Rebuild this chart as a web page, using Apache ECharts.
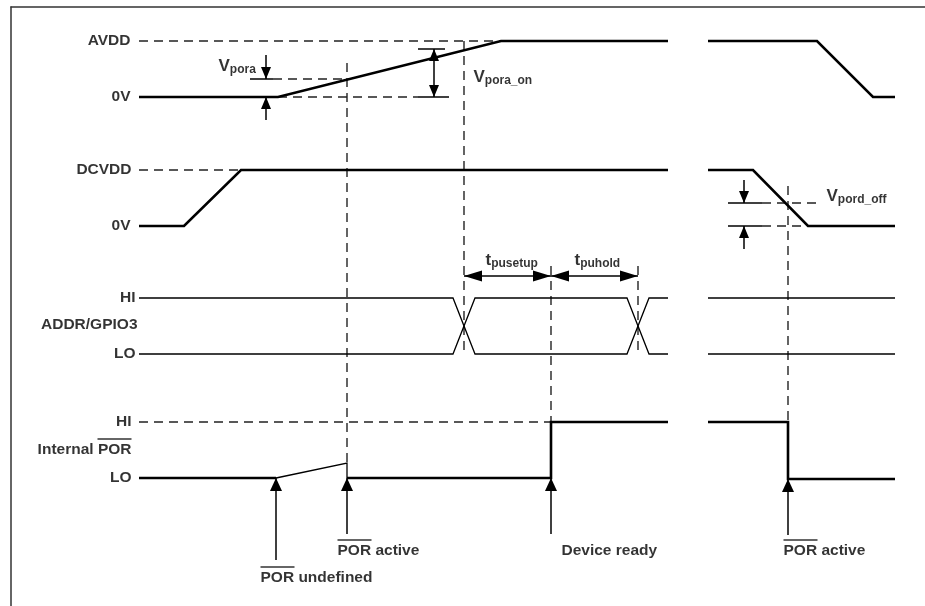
<!DOCTYPE html>
<html>
<head>
<meta charset="utf-8">
<script src="https://cdn.jsdelivr.net/npm/echarts@6/dist/echarts.min.js"></script>
<style>
  html, body { margin: 0; padding: 0; background: #fff; }
  #chart { width: 925px; height: 606px; }
</style>
</head>
<body>
<div id="chart"></div>
<script>
// diagram units: x = time position, y = signal level position (top -> bottom)
const avddOn = [[139, 97], [278, 97], [501, 41], [668, 41]];
const avddOff = [[708, 41], [817, 41], [873, 97], [895, 97]];
const dcvddOn = [[139, 226], [184, 226], [241, 170], [668, 170]];
const dcvddOff = [[708, 170], [753, 170], [808, 226], [895, 226]];
const porStart = [[139, 478], [276, 478]];
const porReady = [[347, 478], [551, 478], [551, 422], [668, 422]];
const porOff = [[708, 422], [788, 422], [788, 479], [895, 479]];

// thin lines: ADDR/GPIO3 bus, undefined POR ramp, measurement ticks
const gpioBusA = [[139, 298], [453, 298], [475, 354], [627, 354], [649, 298], [668, 298]];
const gpioBusB = [[139, 354], [453, 354], [475, 298], [627, 298], [649, 354], [668, 354]];
const gpioHiOff = [[708, 298], [895, 298]];
const gpioLoOff = [[708, 354], [895, 354]];
const porUndefined = [[276, 478], [347, 463], [347, 478]];
const ticks = [
  [[250, 79], [273, 79]],
  [[418, 49], [445, 49]],
  [[418, 97], [449, 97]],
  [[728, 203], [762, 203]],
  [[728, 226], [762, 226]]
];

// dashed reference lines
const dashedRefs = [
  [[139, 41], [501, 41]],
  [[278, 97], [418, 97]],
  [[273, 79], [347, 79]],
  [[139, 170], [241, 170]],
  [[139, 422], [551, 422]],
  [[762, 203], [822, 203]],
  [[762, 226], [808, 226]],
  [[347, 63], [347, 463]],
  [[464, 41], [464, 354]],
  [[551, 266], [551, 422]],
  [[638, 266], [638, 354]],
  [[788, 186], [788, 422]]
];

// arrows: [x1, y1, x2, y2], head at (x2, y2)
const levelArrows = [[266, 55, 266, 79], [266, 120, 266, 97], [744, 180, 744, 203], [744, 249, 744, 226]];
const levelDoubleArrows = [[434, 49, 434, 97]];
const timingArrows = [[464, 276, 551, 276], [551, 276, 638, 276]];
const eventArrows = [[276, 560, 276, 478], [347, 534, 347, 478], [551, 534, 551, 478], [788, 535, 788, 479]];

// labels: [text, x, y, side]
const textLabels = [
  ['AVDD', 131, 41, 'left'],
  ['0V', 131, 97, 'left'],
  ['DCVDD', 132, 170, 'left'],
  ['0V', 131, 226, 'left'],
  ['HI', 136, 298, 'left'],
  ['ADDR/GPIO3', 138, 325, 'left'],
  ['LO', 136, 354, 'left'],
  ['HI', 132, 422, 'left'],
  ['{ob|}\nInternal POR', 132, 448, 'left'],
  ['LO', 132, 478, 'left'],
  ['{v|V}{s|pora}', 218, 66, 'right'],
  ['{v|V}{s|pora_on}', 473, 77, 'right'],
  ['{v|V}{s|pord_off}', 826, 196, 'right'],
  ['{v|t}{s|pusetup}', 485, 260, 'right'],
  ['{v|t}{s|puhold}', 574, 260, 'right'],
  ['{ob|}\nPOR undefined', 260, 576, 'right'],
  ['{ob|}\nPOR active', 337, 549, 'right'],
  ['Device ready', 561, 551, 'right'],
  ['{ob|}\nPOR active', 783, 549, 'right']
];

const FONT = '"Liberation Sans", Arial, sans-serif';
const INK = '#000';

const chart = echarts.init(document.getElementById('chart'));

function pathSeries(paths, width, dashed) {
  return {
    type: 'lines',
    coordinateSystem: 'cartesian2d',
    polyline: true,
    silent: true,
    z: dashed ? 1 : 3,
    lineStyle: { color: dashed ? '#222' : '#000', width: width, opacity: 1, type: dashed ? [9, 6] : 'solid' },
    data: paths.map(c => ({ coords: c }))
  };
}

function arrowSeries(items, both, headLen, headWidth) {
  return {
    type: 'custom',
    coordinateSystem: 'cartesian2d',
    silent: true,
    clip: false,
    z: 4,
    encode: { x: [0, 2], y: [1, 3] },
    data: items,
    renderItem: (params, api) => {
      const p = api.coord([api.value(0), api.value(1)]);
      const q = api.coord([api.value(2), api.value(3)]);
      const dx = q[0] - p[0], dy = q[1] - p[1];
      const d = Math.hypot(dx, dy), ux = dx / d, uy = dy / d;
      const hw = headWidth / 2;
      const head = (tip, sx, sy) => {
        const bx = tip[0] - sx * headLen, by = tip[1] - sy * headLen;
        return {
          type: 'polygon',
          shape: { points: [tip, [bx - sy * hw, by + sx * hw], [bx + sy * hw, by - sx * hw]] },
          style: { fill: '#000' }
        };
      };
      const children = [{
        type: 'line',
        shape: { x1: p[0], y1: p[1], x2: q[0], y2: q[1] },
        style: { stroke: '#000', lineWidth: 1.5 }
      }, head(q, ux, uy)];
      if (both) children.push(head(p, -ux, -uy));
      return { type: 'group', children: children };
    }
  };
}

chart.setOption({
  animation: false,
  backgroundColor: '#fff',
  grid: { left: 11, top: 7, right: 0, bottom: 0 },
  xAxis: {
    type: 'value', min: 11, max: 925, position: 'top',
    axisLine: { show: true, onZero: false, lineStyle: { color: '#333', width: 1.5 } },
    axisTick: { show: false }, axisLabel: { show: false }, splitLine: { show: false }
  },
  yAxis: {
    type: 'value', min: 7, max: 606, inverse: true,
    axisLine: { show: true, onZero: false, lineStyle: { color: '#333', width: 1.5 } },
    axisTick: { show: false }, axisLabel: { show: false }, splitLine: { show: false }
  },
  series: [
    pathSeries(dashedRefs, 1.4, true),
    pathSeries([avddOn, avddOff, dcvddOn, dcvddOff, porStart, porReady, porOff], 2.6, false),
    pathSeries([gpioBusA, gpioBusB, gpioHiOff, gpioLoOff, porUndefined], 1.3, false),
    pathSeries(ticks, 1.5, false),
    arrowSeries(levelArrows, false, 12, 10),
    arrowSeries(levelDoubleArrows, true, 12, 10),
    arrowSeries(timingArrows, true, 18, 11),
    arrowSeries(eventArrows, false, 13, 12),
    {
      type: 'scatter',
      silent: true,
      symbolSize: 1,
      z: 5,
      itemStyle: { color: 'transparent' },
      data: textLabels.map(([text, x, y, side]) => ({
        value: [x, y],
        label: { formatter: text, position: side }
      })),
      label: {
        show: true,
        distance: 0,
        fontFamily: FONT,
        fontWeight: 'bold',
        fontSize: 15.5,
        lineHeight: 18,
        color: INK,
        rich: {
          v: { fontFamily: FONT, fontWeight: 'bold', fontSize: 17, lineHeight: 20, color: INK },
          s: { fontFamily: FONT, fontWeight: 'bold', fontSize: 12, lineHeight: 14, verticalAlign: 'bottom', color: INK },
          ob: { width: 34, height: 1.6, lineHeight: 4, backgroundColor: INK }
        }
      }
    }
  ]
});
</script>
</body>
</html>
